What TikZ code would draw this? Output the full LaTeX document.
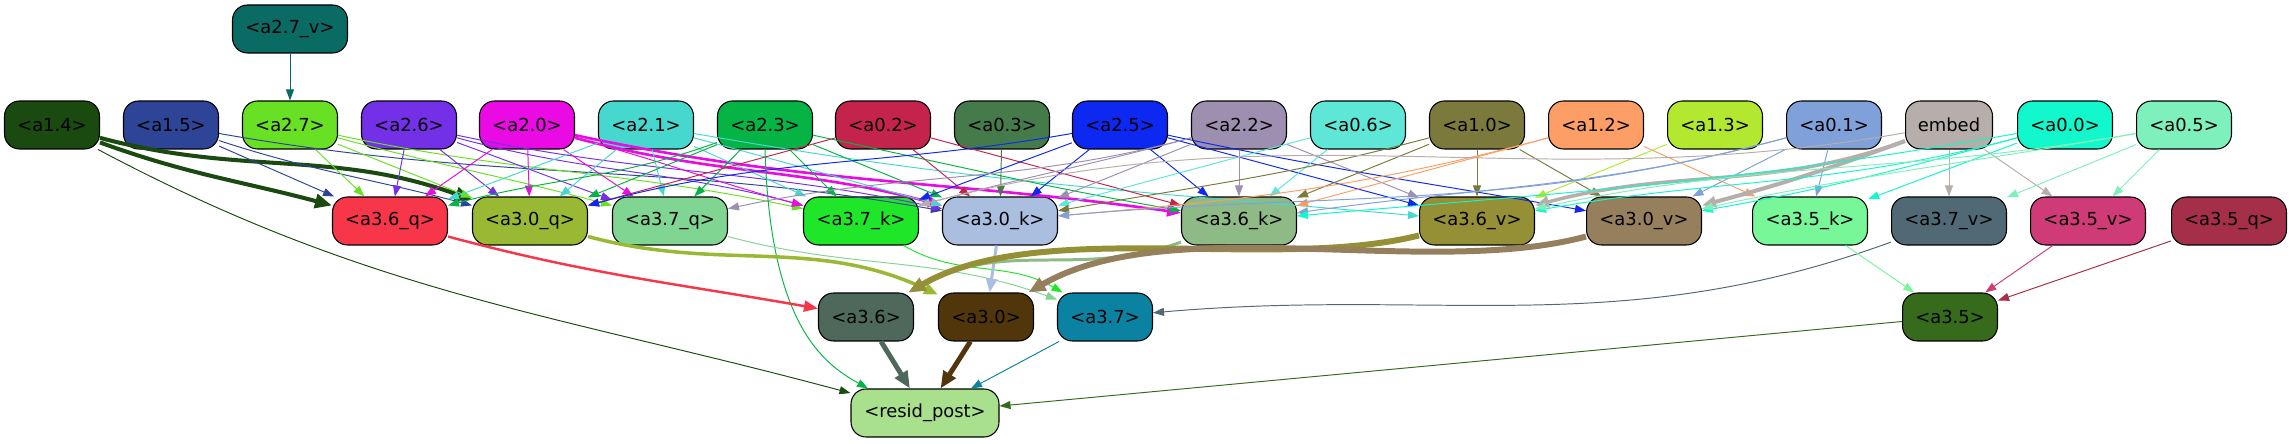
\documentclass[tikz,border=0pt]{standalone}
\usepackage{fontspec}
\setmainfont{DejaVu Sans}
\usetikzlibrary{arrows.meta,calc}
% node colours
\definecolor{ca27v}{HTML}{0A6A64}
\definecolor{ca14}{HTML}{1A4A0F}
\definecolor{ca15}{HTML}{2E4497}
\definecolor{ca27}{HTML}{68E024}
\definecolor{ca26}{HTML}{7330E6}
\definecolor{ca20}{HTML}{EA0AE4}
\definecolor{ca21}{HTML}{46D8CE}
\definecolor{ca23}{HTML}{06B445}
\definecolor{ca02}{HTML}{C4244C}
\definecolor{ca03}{HTML}{457B4A}
\definecolor{ca25}{HTML}{0D28F0}
\definecolor{ca22}{HTML}{9C8FB0}
\definecolor{ca06}{HTML}{5EE6D6}
\definecolor{ca10}{HTML}{7B7A3C}
\definecolor{ca12}{HTML}{FC9E66}
\definecolor{ca13}{HTML}{B2E82F}
\definecolor{ca01}{HTML}{7FA0D9}
\definecolor{cemb}{HTML}{B5AEAB}
\definecolor{ca00}{HTML}{12F7CB}
\definecolor{ca05}{HTML}{7EF0BC}
\definecolor{ca36q}{HTML}{F8364A}
\definecolor{ca30q}{HTML}{99B833}
\definecolor{ca37q}{HTML}{80D592}
\definecolor{ca37k}{HTML}{20E62A}
\definecolor{ca30k}{HTML}{AABFE0}
\definecolor{ca36k}{HTML}{8EBA86}
\definecolor{ca36v}{HTML}{958F35}
\definecolor{ca30v}{HTML}{957F5C}
\definecolor{ca35k}{HTML}{78F799}
\definecolor{ca37v}{HTML}{506974}
\definecolor{ca35v}{HTML}{CF3B77}
\definecolor{ca35q}{HTML}{A52E48}
\definecolor{ca36}{HTML}{4E695C}
\definecolor{ca30}{HTML}{52360B}
\definecolor{ca37}{HTML}{0C82A3}
\definecolor{ca35}{HTML}{356B1A}
\definecolor{cres}{HTML}{A8E08E}
\tikzset{
  box/.style={draw=black, line width=0.6pt, rounded corners=0.3cm,
              minimum width=1.9cm, minimum height=0.96cm, inner sep=0pt,
              font=\fontsize{10.2}{12}\selectfont},
  wbox/.style={box, minimum width=2.3cm},
  conn/.style={-{Triangle[length=0.22cm,width=0.16cm]}, line width=0.55pt},
  mconn/.style={-{Triangle[length=0.28cm,width=0.22cm]}, line width=1.5pt},
  tconn/.style={-{Triangle[length=0.34cm,width=0.28cm]}, line width=3pt},
}
\begin{document}
\begin{tikzpicture}[x=0.02cm,y=0.02cm]
\useasboundingbox (0,0) rectangle (2289,443);
% top
\node[wbox,fill=ca27v] (a27v) at (290,414) {<a2.7\_v>};
% first row
\node[box,fill=ca14] (a14) at (52,318) {<a1.4>};
\node[box,fill=ca15] (a15) at (171,318) {<a1.5>};
\node[box,fill=ca27] (a27) at (290,318) {<a2.7>};
\node[box,fill=ca26] (a26) at (409,318) {<a2.6>};
\node[box,fill=ca20] (a20) at (527,318) {<a2.0>};
\node[box,fill=ca21] (a21) at (646,318) {<a2.1>};
\node[box,fill=ca23] (a23) at (765,318) {<a2.3>};
\node[box,fill=ca02] (a02) at (883,318) {<a0.2>};
\node[box,fill=ca03] (a03) at (1002,318) {<a0.3>};
\node[box,fill=ca25] (a25) at (1120,318) {<a2.5>};
\node[box,fill=ca22] (a22) at (1239,318) {<a2.2>};
\node[box,fill=ca06] (a06) at (1358,318) {<a0.6>};
\node[box,fill=ca10] (a10) at (1477,318) {<a1.0>};
\node[box,fill=ca12] (a12) at (1596,318) {<a1.2>};
\node[box,fill=ca13] (a13) at (1715,318) {<a1.3>};
\node[box,fill=ca01] (a01) at (1834,318) {<a0.1>};
\node[box,fill=cemb,minimum width=1.74cm] (emb) at (1949,318) {embed};
\node[box,fill=ca00] (a00) at (2065,318) {<a0.0>};
\node[box,fill=ca05] (a05) at (2184,318) {<a0.5>};
% second row
\node[wbox,fill=ca36q] (a36q) at (390,222) {<a3.6\_q>};
\node[wbox,fill=ca30q] (a30q) at (530,222) {<a3.0\_q>};
\node[wbox,fill=ca37q] (a37q) at (670,222) {<a3.7\_q>};
\node[wbox,fill=ca37k] (a37k) at (861,222) {<a3.7\_k>};
\node[wbox,fill=ca30k] (a30k) at (1000,222) {<a3.0\_k>};
\node[wbox,fill=ca36k] (a36k) at (1239,222) {<a3.6\_k>};
\node[wbox,fill=ca36v] (a36v) at (1477,222) {<a3.6\_v>};
\node[wbox,fill=ca30v] (a30v) at (1644,222) {<a3.0\_v>};
\node[wbox,fill=ca35k] (a35k) at (1810,222) {<a3.5\_k>};
\node[wbox,fill=ca37v] (a37v) at (1949,222) {<a3.7\_v>};
\node[wbox,fill=ca35v] (a35v) at (2088,222) {<a3.5\_v>};
\node[wbox,fill=ca35q] (a35q) at (2229,222) {<a3.5\_q>};
% third row
\node[box,fill=ca36] (a36) at (866,126) {<a3.6>};
\node[box,fill=ca30] (a30) at (986,126) {<a3.0>};
\node[box,fill=ca37] (a37) at (1105,126) {<a3.7>};
\node[box,fill=ca35] (a35) at (1950,126) {<a3.5>};
% output
\node[box,fill=cres,minimum width=2.96cm] (resid) at (925,30) {<resid\_post>};

% edges into the second row
\draw[conn,ca27v] (a27v) -- (a27);
\draw[tconn,ca14,line width=2.3pt] (a14) to[out=-20,in=165] (a36q);
\draw[tconn,ca14,line width=2.3pt] (a14) to[out=-15,in=160] (a30q);
\draw[conn,ca14] (a14) to[out=-28,in=165] (resid);
\draw[conn,ca15] (a15) -- (a36q);
\draw[conn,ca15] (a15) to[out=-18,in=165] (a30q);
\draw[conn,ca15] (a15) to[out=-10,in=170] (a30k);
\draw[conn,ca27] (a27) -- (a36q);
\draw[conn,ca27] (a27) -- (a30q);
\draw[conn,ca27] (a27) to[out=-15,in=165] (a37q);
\draw[conn,ca27] (a27) to[out=-12,in=168] (a37k);
\draw[conn,ca26] (a26) -- (a36q);
\draw[conn,ca26] (a26) -- (a30q);
\draw[conn,ca26] (a26) to[out=-20,in=160] (a37q);
\draw[conn,ca26] (a26) to[out=-15,in=165] (a37k);
\draw[conn,ca26] (a26) to[out=-12,in=168] (a30k);
\draw[conn,ca20] (a20) -- (a36q);
\draw[conn,ca20] (a20) -- (a30q);
\draw[conn,ca20] (a20) -- (a37q);
\draw[conn,ca20] (a20) to[out=-15,in=165] (a37k);
\draw[mconn,ca20] (a20) to[out=-15,in=165] (a30k);
\draw[mconn,ca20] (a20) to[out=-12,in=172] (a36k);
\draw[conn,ca21] (a21) -- (a36q);
\draw[conn,ca21] (a21) -- (a30q);
\draw[conn,ca21] (a21) -- (a37q);
\draw[conn,ca21] (a21) -- (a37k);
\draw[conn,ca21] (a21) to[out=-15,in=165] (a30k);
\draw[conn,ca21] (a21) to[out=-10,in=175] (a36v);
\draw[conn,ca23] (a23) to[out=200,in=15] (a36q);
\draw[conn,ca23] (a23) -- (a30q);
\draw[conn,ca23] (a23) -- (a37q);
\draw[conn,ca23] (a23) -- (a37k);
\draw[conn,ca23] (a23) -- (a30k);
\draw[conn,ca23] (a23) to[out=-12,in=170] (a36k);
\draw[conn,ca23] (a23.south) .. controls +(5,-175) and +(-45,25) .. ($(resid.north)+(-57,0)$);
\draw[conn,ca02] (a02) -- (a30q);
\draw[conn,ca02] (a02) -- (a30k);
\draw[conn,ca02] (a02) -- (a36k);
\draw[conn,ca03] (a03) -- (a30k);
\draw[conn,ca25] (a25) to[out=190,in=15] (a30q);
\draw[conn,ca25] (a25) -- (a37k);
\draw[conn,ca25] (a25) -- (a30k);
\draw[conn,ca25] (a25) -- (a36k);
\draw[conn,ca25] (a25) -- (a36v);
\draw[conn,ca25] (a25) to[out=-12,in=170] (a30v);
\draw[conn,ca22] (a22) to[out=195,in=12] (a37q);
\draw[conn,ca22] (a22) to[out=195,in=15] (a37k);
\draw[conn,ca22] (a22) -- (a30k);
\draw[conn,ca22] (a22) -- (a36k);
\draw[conn,ca22] (a22) -- (a36v);
\draw[conn,ca06] (a06) -- (a30k);
\draw[conn,ca06] (a06) -- (a36k);
\draw[conn,ca10] (a10) to[out=195,in=10] (a30k);
\draw[conn,ca10] (a10) -- (a36k);
\draw[conn,ca10] (a10) -- (a36v);
\draw[conn,ca10] (a10) -- (a30v);
\draw[conn,ca12] (a12) to[out=195,in=5] (a30k);
\draw[conn,ca12] (a12) -- (a36k);
\draw[conn,ca12] (a12) -- (a35k);
\draw[conn,ca13] (a13) -- (a36v);
\draw[conn,ca01] (a01) to[out=195,in=5] (a30k);
\draw[conn,ca01] (a01) to[out=195,in=8] (a36k);
\draw[conn,ca01] (a01) -- (a30v);
\draw[conn,ca01] (a01) -- (a35k);
\draw[conn,cemb] (emb) to[out=190,in=15] (a37k);
\draw[mconn,cemb,line width=2pt] (emb) to[out=200,in=15] (a36v);
\draw[mconn,cemb,line width=2.3pt] (emb) to[out=200,in=15] (a30v);
\draw[conn,cemb] (emb) -- (a37v);
\draw[conn,cemb] (emb) -- (a35v);
\draw[conn,ca00] (a00) to[out=190,in=5] (a36k);
\draw[conn,ca00] (a00) to[out=195,in=10] (a36v);
\draw[conn,ca00] (a00) to[out=195,in=10] (a30v);
\draw[conn,ca00] (a00) -- (a35k);
\draw[conn,ca05] (a05) to[out=190,in=12] (a36v);
\draw[conn,ca05] (a05) to[out=190,in=12] (a30v);
\draw[conn,ca05] (a05) -- (a37v);
\draw[conn,ca05] (a05) -- (a35v);

% edges into the third row
\draw[mconn,ca36q,line width=1.4pt] (a36q) to[out=-15,in=170] (a36);
\draw[mconn,ca30q,line width=2pt] (a30q) to[out=-15,in=155] (a30);
\draw[conn,ca37q] (a37q) to[out=-15,in=160] (a37);
\draw[conn,ca37k] (a37k) to[out=-30,in=150] (a37);
\draw[mconn,ca30k,line width=1.7pt] (a30k) -- (a30);
\draw[mconn,ca36k,line width=1.7pt] (a36k) to[out=200,in=30] (a36);
\draw[tconn,ca36v,line width=3.4pt] (a36v) to[out=194,in=30,looseness=0.75] (a36);
\draw[tconn,ca30v,line width=3.4pt] (a30v) to[out=195,in=30,looseness=0.75] (a30);
\draw[conn,ca37v] (a37v) to[out=200,in=5] (a37);
\draw[conn,ca35k] (a35k) -- (a35);
\draw[conn,ca35v] (a35v) -- (a35);
\draw[conn,ca35q] (a35q) -- (a35);

% edges into the output
\draw[tconn,ca36,line width=2.8pt] (a36) -- (resid);
\draw[tconn,ca30,line width=2.8pt] (a30) -- (resid);
\draw[conn,ca37] (a37) -- (resid);
\draw[conn,ca35] (a35) -- (resid);
\end{tikzpicture}
\end{document}
